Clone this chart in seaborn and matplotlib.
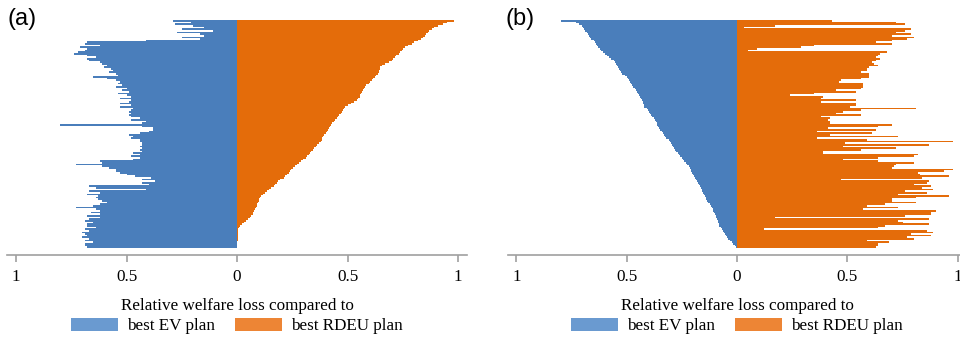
import pandas as pd
import numpy as np
import seaborn as sns
import matplotlib.pyplot as plt
from matplotlib.patches import Patch

# ------------------------------------------------------------
# Data (one value per bar, top to bottom)
# ------------------------------------------------------------
ev_loss_a = [0.29, 0.21, 0.28, 0.20, 0.15, 0.25, 0.11, 0.27, 0.17, 0.15, 0.25, 0.17,
             0.41, 0.68, 0.69, 0.62, 0.71, 0.68, 0.69, 0.72, 0.74, 0.68, 0.64, 0.68,
             0.67, 0.62, 0.61, 0.59, 0.60, 0.57, 0.56, 0.58, 0.55, 0.54, 0.65, 0.59,
             0.55, 0.53, 0.54, 0.52, 0.55, 0.50, 0.52, 0.49, 0.54, 0.50, 0.48, 0.53,
             0.48, 0.49, 0.53, 0.48, 0.53, 0.47, 0.48, 0.49, 0.48, 0.49, 0.48, 0.44,
             0.48, 0.41, 0.43, 0.80, 0.43, 0.38, 0.38, 0.40, 0.44, 0.49, 0.47, 0.48,
             0.44, 0.44, 0.43, 0.43, 0.44, 0.43, 0.44, 0.43, 0.47, 0.44, 0.48, 0.44,
             0.47, 0.62, 0.61, 0.73, 0.61, 0.58, 0.55, 0.55, 0.53, 0.50, 0.46, 0.39,
             0.43, 0.37, 0.43, 0.40, 0.67, 0.64, 0.41, 0.67, 0.62, 0.68, 0.63, 0.64,
             0.63, 0.61, 0.59, 0.62, 0.65, 0.73, 0.64, 0.62, 0.66, 0.62, 0.68, 0.62,
             0.67, 0.69, 0.65, 0.68, 0.68, 0.64, 0.69, 0.67, 0.70, 0.69, 0.68, 0.70,
             0.67, 0.69, 0.65, 0.69, 0.69, 0.68]

rdeu_loss_a = [0.98, 0.95, 0.93, 0.91, 0.89, 0.88, 0.87, 0.865, 0.855, 0.85, 0.84, 0.83,
               0.82, 0.80, 0.79, 0.775, 0.76, 0.75, 0.745, 0.735, 0.73, 0.72, 0.715, 0.705,
               0.70, 0.685, 0.67, 0.655, 0.645, 0.645, 0.64, 0.64, 0.635, 0.63, 0.625, 0.615,
               0.61, 0.60, 0.595, 0.585, 0.58, 0.575, 0.57, 0.565, 0.56, 0.555, 0.555, 0.545,
               0.54, 0.53, 0.515, 0.50, 0.49, 0.485, 0.48, 0.475, 0.47, 0.46, 0.455, 0.45,
               0.445, 0.44, 0.43, 0.425, 0.42, 0.415, 0.41, 0.405, 0.40, 0.395, 0.39, 0.385,
               0.385, 0.38, 0.37, 0.36, 0.355, 0.35, 0.345, 0.335, 0.33, 0.325, 0.315, 0.31,
               0.30, 0.29, 0.28, 0.27, 0.26, 0.255, 0.245, 0.24, 0.235, 0.225, 0.215, 0.21,
               0.195, 0.185, 0.18, 0.17, 0.165, 0.155, 0.145, 0.135, 0.125, 0.115, 0.11, 0.105,
               0.10, 0.097, 0.093, 0.09, 0.088, 0.085, 0.08, 0.077, 0.074, 0.07, 0.065, 0.058,
               0.05, 0.04, 0.03, 0.02, 0.014, 0.008, 0.004, 0.003, 0.003, 0.002, 0.002, 0.002,
               0.002, 0.002, 0.001, 0.001, 0.001, 0.001]

ev_loss_b = [0.80, 0.73, 0.715, 0.705, 0.70, 0.695, 0.69, 0.68, 0.675, 0.672, 0.668, 0.66,
             0.65, 0.645, 0.64, 0.635, 0.63, 0.62, 0.615, 0.61, 0.60, 0.59, 0.58, 0.57,
             0.56, 0.555, 0.55, 0.545, 0.54, 0.535, 0.53, 0.525, 0.52, 0.51, 0.50, 0.495,
             0.49, 0.485, 0.48, 0.475, 0.47, 0.465, 0.46, 0.455, 0.45, 0.445, 0.44, 0.435,
             0.43, 0.428, 0.425, 0.422, 0.42, 0.41, 0.405, 0.40, 0.395, 0.39, 0.385, 0.375,
             0.37, 0.367, 0.365, 0.362, 0.36, 0.355, 0.35, 0.34, 0.335, 0.33, 0.325, 0.32,
             0.31, 0.305, 0.30, 0.295, 0.29, 0.285, 0.28, 0.275, 0.27, 0.265, 0.26, 0.25,
             0.245, 0.24, 0.23, 0.225, 0.22, 0.215, 0.21, 0.207, 0.205, 0.20, 0.195, 0.19,
             0.185, 0.18, 0.177, 0.173, 0.17, 0.165, 0.16, 0.157, 0.155, 0.15, 0.145, 0.14,
             0.14, 0.135, 0.13, 0.125, 0.12, 0.115, 0.11, 0.107, 0.105, 0.10, 0.097, 0.095,
             0.09, 0.088, 0.085, 0.083, 0.08, 0.075, 0.07, 0.065, 0.06, 0.055, 0.05, 0.045,
             0.04, 0.032, 0.025, 0.017, 0.01, 0.004]

rdeu_loss_b = [0.43, 0.72, 0.76, 0.17, 0.03, 0.79, 0.76, 0.72, 0.79, 0.70, 0.80, 0.77,
               0.70, 0.63, 0.70, 0.35, 0.29, 0.09, 0.05, 0.68, 0.65, 0.64, 0.63, 0.65,
               0.63, 0.61, 0.62, 0.64, 0.60, 0.59, 0.59, 0.56, 0.60, 0.60, 0.60, 0.56,
               0.47, 0.46, 0.57, 0.57, 0.57, 0.56, 0.45, 0.54, 0.35, 0.24, 0.39, 0.38,
               0.54, 0.38, 0.54, 0.54, 0.51, 0.81, 0.56, 0.48, 0.45, 0.56, 0.38, 0.42,
               0.41, 0.42, 0.42, 0.70, 0.64, 0.41, 0.63, 0.36, 0.61, 0.42, 0.73, 0.36,
               0.59, 0.98, 0.49, 0.87, 0.48, 0.72, 0.56, 0.39, 0.39, 0.82, 0.80, 0.64,
               0.48, 0.64, 0.80, 0.72, 0.71, 0.70, 0.98, 0.94, 0.82, 0.83, 0.96, 0.84,
               0.47, 0.87, 0.86, 0.80, 0.88, 0.84, 0.89, 0.76, 0.86, 0.73, 0.96, 0.81,
               0.70, 0.70, 0.81, 0.67, 0.59, 0.73, 0.57, 0.90, 0.88, 0.88, 0.76, 0.17,
               0.87, 0.73, 0.75, 0.87, 0.67, 0.64, 0.12, 0.86, 0.89, 0.79, 0.88, 0.77,
               0.80, 0.59, 0.69, 0.64, 0.64, 0.63]

tick_pos = [-1, -0.5, 0, 0.5, 1]
tick_labels = ["1", "0.5", "0", "0.5", "1"]
panel_labels = ["(a)", "(b)"]

blue = "#4a7ebb"
orange = "#e46c0a"
blue_leg = "#6a9ad0"
orange_leg = "#ed8535"

plt.rcParams['font.family'] = ['Liberation Serif', 'DejaVu Serif']

fig = plt.figure(figsize=(9.6, 3.38), dpi=100)
axes = [fig.add_axes([0.0075, 0.2456, 0.479, 0.6953]),
        fig.add_axes([0.5288, 0.2456, 0.478, 0.6953])]

panels = [(ev_loss_a, rdeu_loss_a), (ev_loss_b, rdeu_loss_b)]

for ax, (ev, rdeu), lab in zip(axes, panels, panel_labels):
    df_ev = pd.DataFrame({'row': range(len(ev)), 'loss': [-v for v in ev]})
    df_rd = pd.DataFrame({'row': range(len(rdeu)), 'loss': rdeu})
    sns.barplot(data=df_ev, x='loss', y='row', orient='h', color=blue,
                saturation=1, width=1, linewidth=0, errorbar=None, ax=ax)
    sns.barplot(data=df_rd, x='loss', y='row', orient='h', color=orange,
                saturation=1, width=1, linewidth=0, errorbar=None, ax=ax)

    n = max(len(ev), len(rdeu))
    ax.set_ylim(n + 3.7, -0.5)
    ax.set_xlim(-1.04, 1.04)
    ax.set_yticks([])
    ax.set_xticks(tick_pos)
    ax.set_xticklabels(tick_labels, fontsize=12.3)
    ax.set_xlabel("")
    ax.set_ylabel("")
    for s in ['top', 'right', 'left']:
        ax.spines[s].set_visible(False)
    ax.spines['bottom'].set_color('#a0a0a0')
    ax.spines['bottom'].set_linewidth(1.2)
    ax.tick_params(axis='x', direction='out', length=5, width=1.2,
                   color='#a0a0a0', pad=5, labelcolor='black')

    handles = [Patch(facecolor=blue_leg, edgecolor='none', label='best EV plan'),
               Patch(facecolor=orange_leg, edgecolor='none', label='best RDEU plan')]
    leg = ax.legend(handles=handles, ncol=2, loc='upper center',
                    bbox_to_anchor=(0.5, -0.148), frameon=False, fontsize=12.3,
                    title='Relative welfare loss compared to', title_fontsize=12.3,
                    handlelength=2.75, handleheight=0.8, handletextpad=0.5,
                    columnspacing=1.2, borderpad=0, labelspacing=0.2)

for lab, x in zip(panel_labels, [0.008, 0.527]):
    fig.text(x, 0.975, lab, fontsize=17, va='top', ha='left',
             family=['Liberation Sans', 'DejaVu Sans'])

fig.savefig("out.png", dpi=100)
